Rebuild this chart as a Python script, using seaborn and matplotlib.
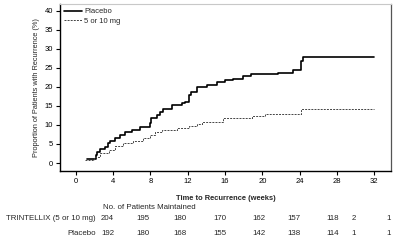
import matplotlib
matplotlib.use('Agg')
import matplotlib.pyplot as plt
import matplotlib.transforms as mtransforms
import pandas as pd
import seaborn as sns

# Kaplan-Meier style recurrence curves
placebo_weeks = [1.15, 2.15, 2.3, 2.6, 3.1, 3.5, 3.7, 4.2, 4.7, 5.3, 6.0, 6.9, 7.9, 8.1, 8.7, 9.0, 9.4,
                 10.3, 11.4, 11.7, 12.1, 12.4, 13.0, 14.1, 15.1, 16.0, 16.9, 17.9, 18.8, 21.7, 23.3,
                 24.1, 24.35, 32.0]
placebo_pct = [1.0, 2.2, 3.0, 3.6, 4.3, 5.2, 5.9, 6.5, 7.4, 8.2, 8.7, 9.6, 10.4, 11.8, 12.6, 13.5, 14.3,
               15.3, 15.7, 16.1, 18.0, 18.8, 19.9, 20.5, 21.2, 21.7, 22.2, 22.8, 23.3, 23.7, 24.4,
               26.8, 28.0, 28.0]
drug_weeks = [1.0, 2.0, 2.6, 3.6, 4.2, 5.1, 6.1, 7.2, 7.9, 8.5, 9.2, 10.8, 12.1, 13.0, 13.5, 15.8,
              18.9, 20.3, 24.1, 32.0]
drug_pct = [0.8, 1.5, 2.6, 3.4, 4.6, 5.3, 5.8, 6.5, 7.4, 8.2, 8.7, 9.1, 9.7, 10.3, 10.8, 11.8,
            12.4, 13.0, 14.3, 14.3]

# number at risk table
table_rows = ['TRINTELLIX (5 or 10 mg)', 'Placebo']
drug_at_risk = [204, 195, 180, 170, 162, 157, 118, 2, 1]
placebo_at_risk = [192, 180, 168, 155, 142, 138, 114, 1, 1]

sns.set_theme(style='white')
plt.rcParams['font.family'] = ['Liberation Sans', 'DejaVu Sans']

fig = plt.figure(figsize=(4.0, 2.43), dpi=100)
ax = fig.add_axes([0.15, 0.2963, 0.8275, 0.687])

placebo = pd.DataFrame({'week': placebo_weeks, 'pct': placebo_pct})
drug = pd.DataFrame({'week': drug_weeks, 'pct': drug_pct})

sns.lineplot(data=placebo, x='week', y='pct', ax=ax, color='black', linewidth=1.2,
             drawstyle='steps-post', label='Placebo')
sns.lineplot(data=drug, x='week', y='pct', ax=ax, color='#444444', linewidth=0.7,
             drawstyle='steps-post', dashes=(2, 1.2), label='5 or 10 mg')

ax.set_xlim(-1.7, 33.8)
ax.set_ylim(-2.1, 41.8)
ax.set_xticks(range(0, 33, 4))
ax.set_yticks(range(0, 41, 5))
ax.tick_params(axis='both', direction='out', length=3, width=0.8, labelsize=5.5, pad=2,
               bottom=True, left=True, colors='black')
ax.set_xlabel('Time to Recurrence (weeks)', fontsize=5.4, fontweight='bold', labelpad=7)
ax.set_ylabel('Proportion of Patients with Recurrence (%)', fontsize=5.3, labelpad=3)

for side in ['left', 'bottom']:
    ax.spines[side].set_color('black')
    ax.spines[side].set_linewidth(1.0)
ax.spines['top'].set_color('#c8c8c8')
ax.spines['top'].set_linewidth(0.8)
ax.spines['right'].set_color('#555555')
ax.spines['right'].set_linewidth(0.9)

leg = ax.legend(loc='upper left', fontsize=5.5, frameon=False, handlelength=2.4,
                handletextpad=0.3, borderaxespad=0.1, labelspacing=0.3)

# at-risk table below the axis
trans = mtransforms.blended_transform_factory(ax.transData, fig.transFigure)
col_pos = [3.4, 7.2, 11.2, 15.5, 19.6, 23.4, 27.5, 29.8, 33.5]
fig.text(0.258, 0.147, 'No. of Patients Maintained', fontsize=5.7, ha='left', va='center')
fig.text(0.24, 0.099, table_rows[0], fontsize=5.7, ha='right', va='center')
fig.text(0.24, 0.040, table_rows[1], fontsize=5.7, ha='right', va='center')
for x, a, b in zip(col_pos, drug_at_risk, placebo_at_risk):
    ax.text(x, 0.099, str(a), transform=trans, fontsize=5.7, ha='center', va='center', clip_on=False)
    ax.text(x, 0.040, str(b), transform=trans, fontsize=5.7, ha='center', va='center', clip_on=False)

fig.savefig('out.png', dpi=100)
